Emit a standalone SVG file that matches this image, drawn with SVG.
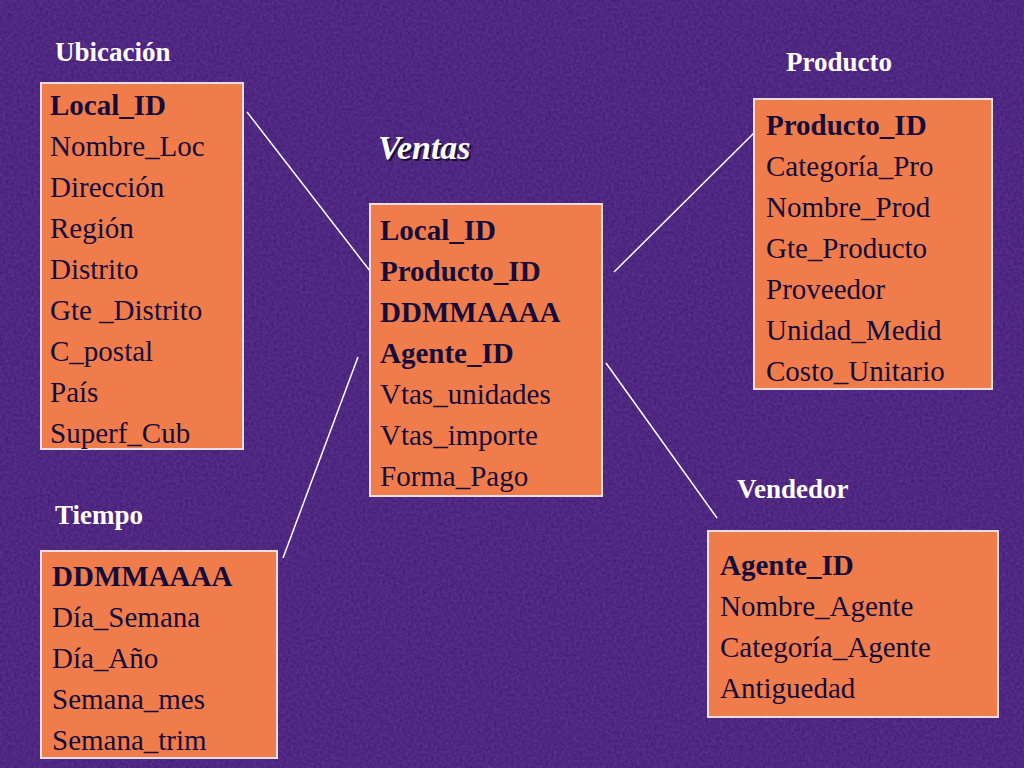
<svg xmlns="http://www.w3.org/2000/svg" width="1024" height="768" viewBox="0 0 1024 768">
<defs>
<filter id="tex" x="0" y="0" width="100%" height="100%">
<feTurbulence type="fractalNoise" baseFrequency="0.35" numOctaves="2" seed="3" result="n"/>
<feColorMatrix in="n" type="matrix" values="0 0 0 0 0.25  0 0 0 0 0.08  0 0 0 0 0.45  0 0 0 0.5 0"/>
</filter>
</defs>
<style>
.box{fill:#f07c4c;stroke:#e8e0e0;stroke-width:2}
.t{font-family:"Liberation Serif",serif;font-size:29px;fill:#140c3a}
.b{font-weight:bold}
.h{font-family:"Liberation Serif",serif;font-size:27px;font-weight:bold;fill:#ffffff}
.c{stroke:#ffffff;stroke-width:1.5;fill:none}
</style>
<rect width="1024" height="768" fill="#3c1a70"/>
<rect width="1024" height="768" filter="url(#tex)"/>
<g id="connectors">
<line class="c" x1="247" y1="112" x2="377" y2="280"/>
<line class="c" x1="614" y1="272" x2="755" y2="132"/>
<line class="c" x1="283" y1="558" x2="358" y2="357"/>
<line class="c" x1="606" y1="363" x2="717" y2="518"/>
</g>
<g id="ubicacion">
<text class="h" x="55" y="61">Ubicación</text>
<rect class="box" x="41" y="83" width="202" height="366"/>
<text class="t" x="50" y="115"><tspan class="b">Local_ID</tspan><tspan x="50" dy="41">Nombre_Loc</tspan><tspan x="50" dy="41">Dirección</tspan><tspan x="50" dy="41">Región</tspan><tspan x="50" dy="41">Distrito</tspan><tspan x="50" dy="41">Gte _Distrito</tspan><tspan x="50" dy="41">C_postal</tspan><tspan x="50" dy="41">País</tspan><tspan x="50" dy="41">Superf_Cub</tspan></text>
</g>
<g id="ventas">
<text x="380" y="161" font-family="Liberation Serif,serif" font-size="34" font-weight="bold" font-style="italic" fill="#1a1030">Ventas</text>
<text x="378" y="159" font-family="Liberation Serif,serif" font-size="34" font-weight="bold" font-style="italic" fill="#ffffff">Ventas</text>
<rect class="box" x="370" y="204" width="232" height="292"/>
<text class="t" x="380" y="240"><tspan class="b">Local_ID</tspan><tspan x="380" dy="41" class="b">Producto_ID</tspan><tspan x="380" dy="41" class="b">DDMMAAAA</tspan><tspan x="380" dy="41" class="b">Agente_ID</tspan><tspan x="380" dy="41">Vtas_unidades</tspan><tspan x="380" dy="41">Vtas_importe</tspan><tspan x="380" dy="41">Forma_Pago</tspan></text>
</g>
<g id="producto">
<text class="h" x="786" y="71">Producto</text>
<rect class="box" x="754" y="99" width="238" height="290"/>
<text class="t" x="766" y="135"><tspan class="b">Producto_ID</tspan><tspan x="766" dy="41">Categoría_Pro</tspan><tspan x="766" dy="41">Nombre_Prod</tspan><tspan x="766" dy="41">Gte_Producto</tspan><tspan x="766" dy="41">Proveedor</tspan><tspan x="766" dy="41">Unidad_Medid</tspan><tspan x="766" dy="41">Costo_Unitario</tspan></text>
</g>
<g id="tiempo">
<text class="h" x="55" y="524">Tiempo</text>
<rect class="box" x="41" y="551" width="236" height="207"/>
<text class="t" x="52" y="586"><tspan class="b">DDMMAAAA</tspan><tspan x="52" dy="41">Día_Semana</tspan><tspan x="52" dy="41">Día_Año</tspan><tspan x="52" dy="41">Semana_mes</tspan><tspan x="52" dy="41">Semana_trim</tspan></text>
</g>
<g id="vendedor">
<text class="h" x="737" y="498">Vendedor</text>
<rect class="box" x="708" y="531" width="290" height="186"/>
<text class="t" x="720" y="575"><tspan class="b">Agente_ID</tspan><tspan x="720" dy="41">Nombre_Agente</tspan><tspan x="720" dy="41">Categoría_Agente</tspan><tspan x="720" dy="41">Antiguedad</tspan></text>
</g>
</svg>
